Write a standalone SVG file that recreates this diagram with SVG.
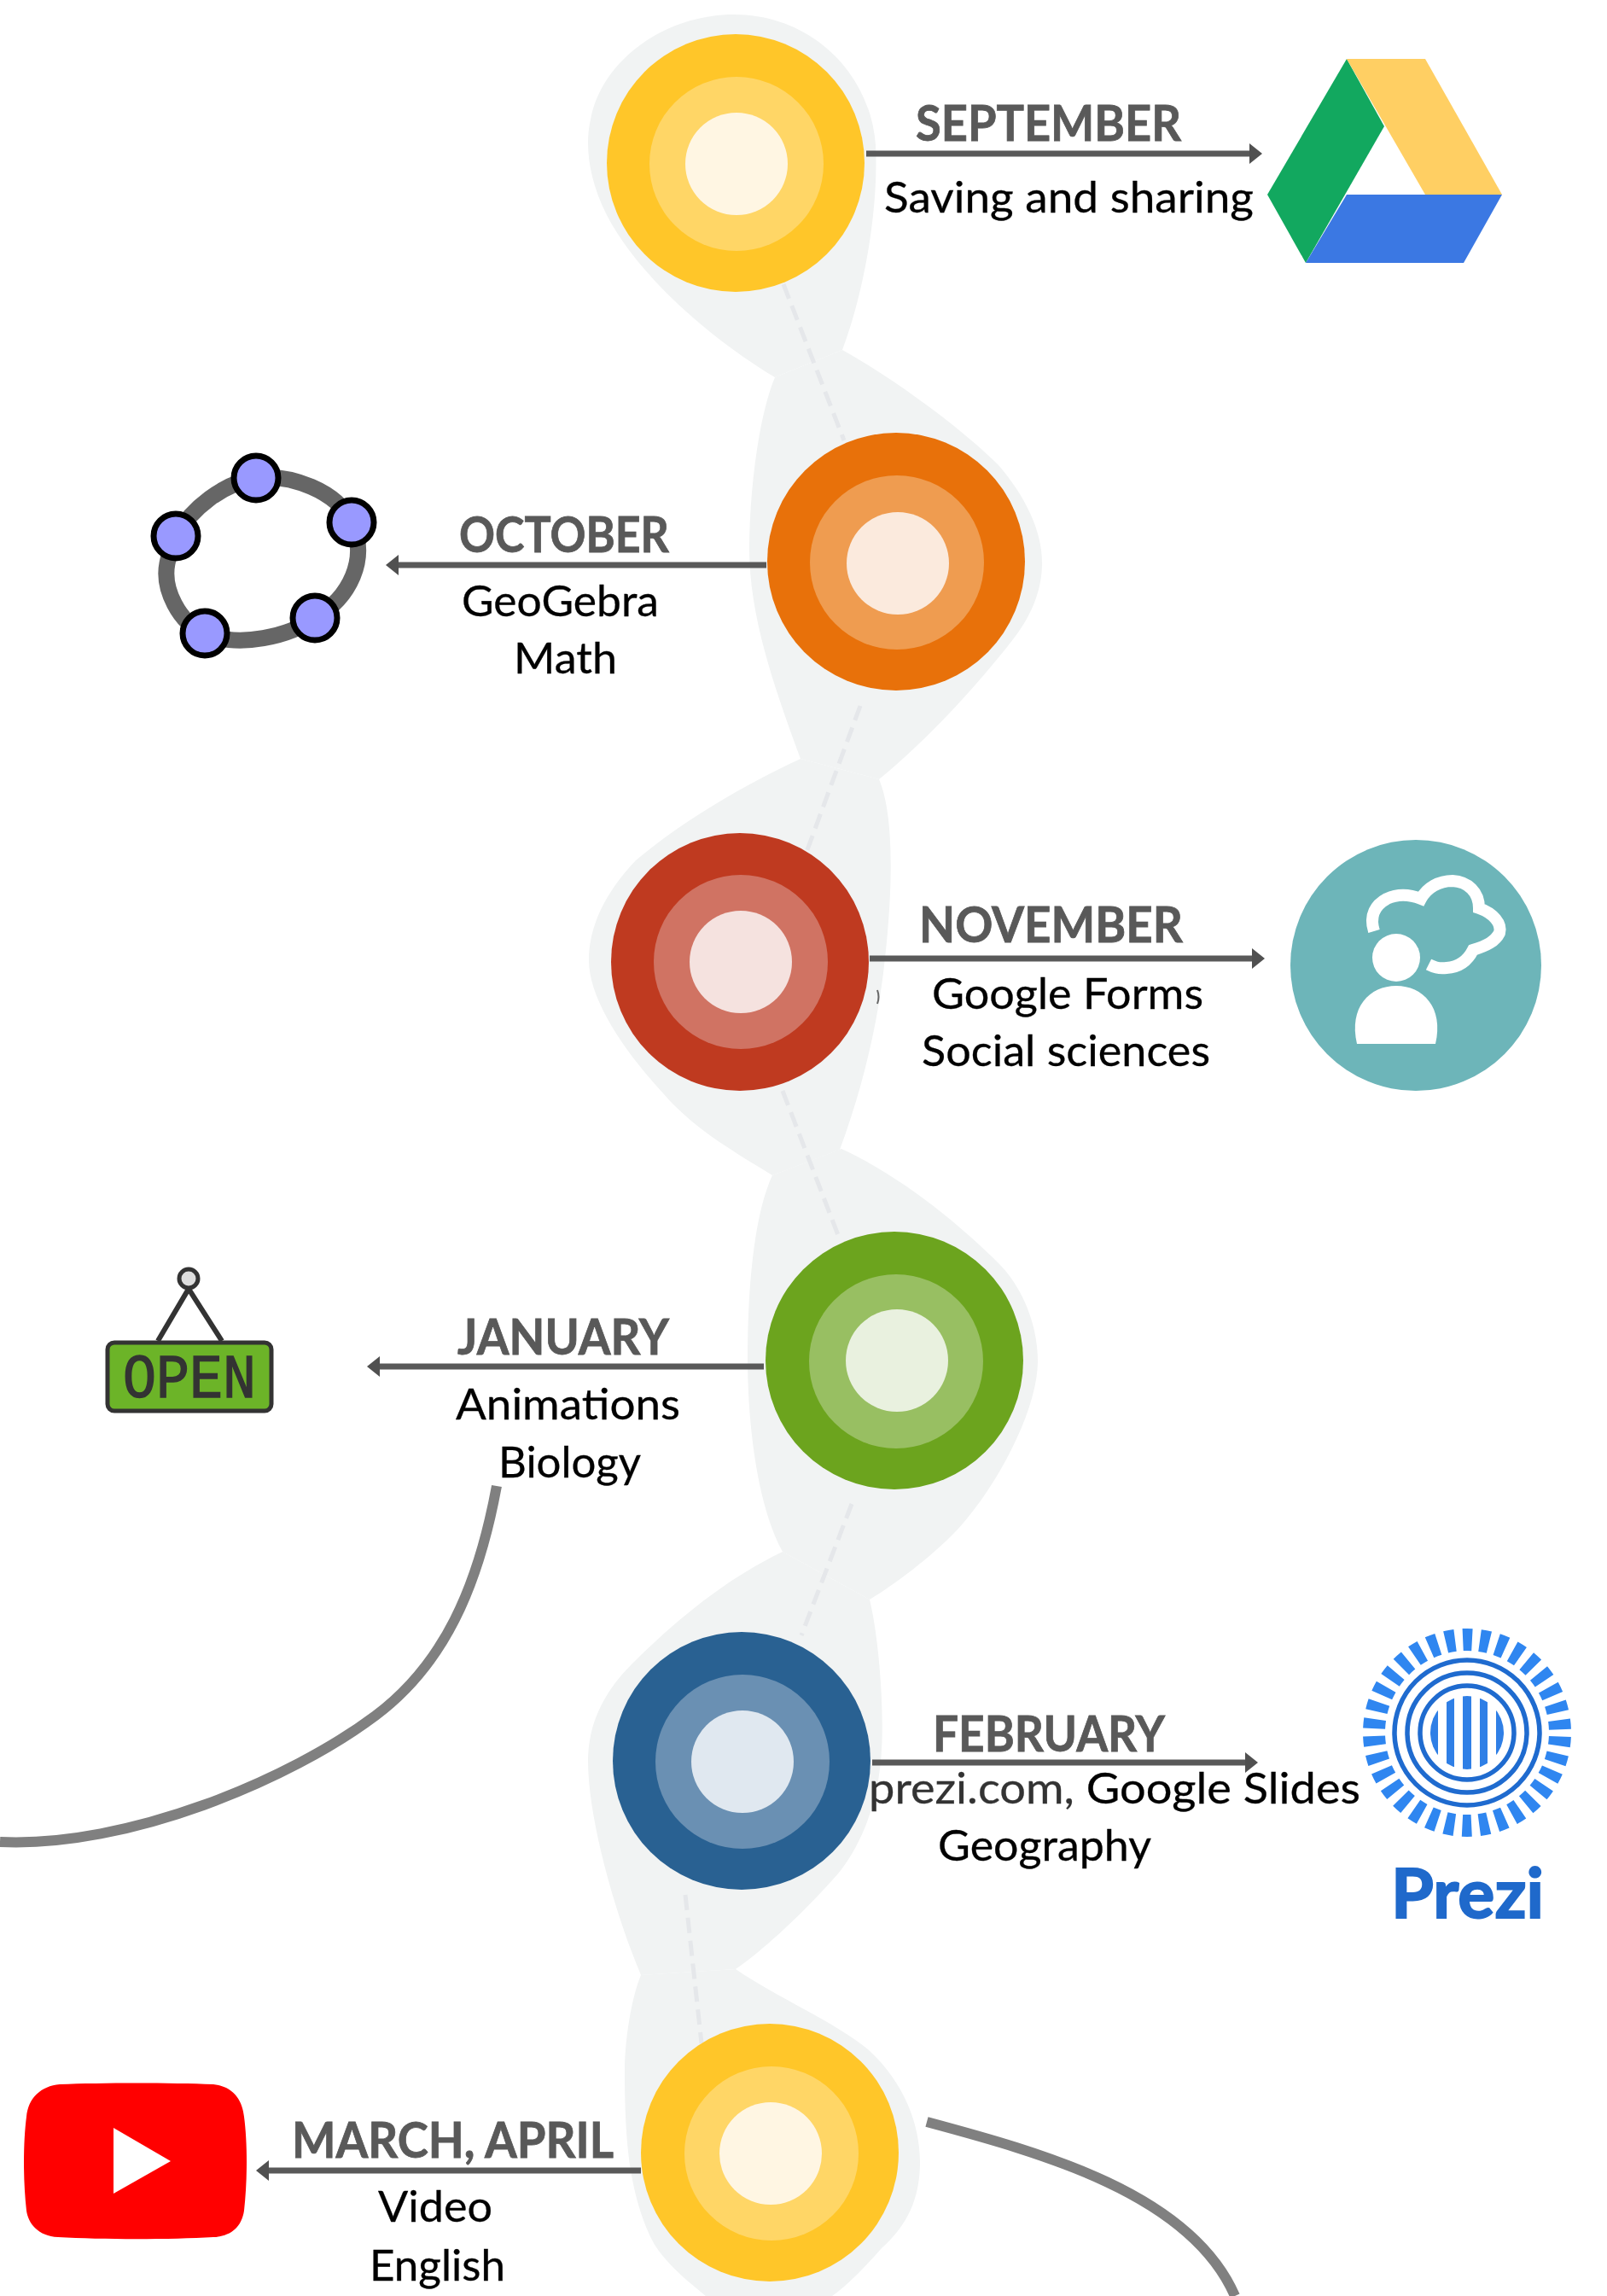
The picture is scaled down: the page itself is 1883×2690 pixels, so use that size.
<svg xmlns="http://www.w3.org/2000/svg" width="1883" height="2690" viewBox="0 0 1883 2690">
<style>
.blob{fill:#f1f3f3}
.dash{fill:none;stroke:#e5e7ea;stroke-width:5;stroke-dasharray:18 9}
.arrow{fill:none;stroke:#595959;stroke-width:7;marker-end:url(#head)}
.curve{fill:none;stroke:#808080;stroke-width:12}
.h{font-family:Lato,"Liberation Sans",sans-serif;font-weight:700;font-size:57px;fill:#595959;stroke:#595959;stroke-width:.8}
.b{font-family:Lato,"Liberation Sans",sans-serif;font-size:51px;fill:#000;stroke:#000;stroke-width:.3}
.y1{fill:#ffc629}.y2{fill:#ffd666}.y3{fill:#fff6e3}
.o1{fill:#e8710a}.o2{fill:#ef9c50}.o3{fill:#fbeadd}
.r1{fill:#bf3a20}.r2{fill:#d07363}.r3{fill:#f5e2df}
.g1{fill:#6ca41e}.g2{fill:#98bf62}.g3{fill:#e9f1df}
.n1{fill:#296192}.n2{fill:#6a90b3}.n3{fill:#e0e8f0}
.pt{fill:#9999ff;stroke:#000;stroke-width:7}
</style>
<defs>
<marker id="head" markerUnits="userSpaceOnUse" markerWidth="16" markerHeight="26" refX="1" refY="13" orient="auto"><path d="M0 1L15 13L0 25Z" fill="#505050"/></marker>
<clipPath id="prezi-clip"><circle cx="1719" cy="2030" r="43"/></clipPath>
</defs>
<rect width="1883" height="2690" fill="#fff"/>
<g id="ribbon">
<path class="blob" d="M908 442C830 395 745 320 710 250C690 210 685 170 692 140C705 70 780 17 860 17C950 17 1020 85 1026 170C1030 250 1010 350 987 410Z"/>
<path class="blob" d="M987 410C1050 445 1130 505 1170 545C1200 580 1221 620 1221 660C1221 695 1205 725 1190 745C1160 785 1095 860 1030 913L938 889C905 800 878 720 878 643C878 580 888 490 908 442Z"/>
<path class="blob" d="M938 889C860 925 790 970 745 1008C705 1050 690 1090 690 1125C690 1170 730 1230 778 1282C815 1325 870 1355 905 1377L984 1347C1005 1290 1025 1220 1035 1140C1045 1060 1050 960 1030 913Z"/>
<path class="blob" d="M986 1346C1060 1380 1130 1440 1170 1480C1200 1510 1216 1555 1216 1595C1216 1650 1170 1740 1121 1793C1090 1825 1050 1855 1019 1874L917 1818C890 1770 876 1680 876 1590C876 1500 885 1420 905 1377Z"/>
<path class="blob" d="M917 1818C850 1850 790 1900 740 1950C700 1990 689 2030 689 2063C689 2130 720 2240 751 2314L862 2307C900 2281 950 2232 983 2194C1010 2160 1030 2110 1033 2050C1036 2000 1030 1920 1019 1874Z"/>
<path class="blob" d="M862 2307C910 2340 980 2370 1017 2401C1060 2440 1078 2490 1078 2533C1078 2580 1060 2610 1033 2634C1010 2660 990 2680 975 2690L827 2690C790 2660 770 2640 760 2616C740 2570 732 2520 732 2427C732 2390 740 2340 751 2314Z"/>
</g>
<g id="connectors">
<path class="dash" d="M918 333L989 516"/>
<path class="dash" d="M1008 827L940 1012"/>
<path class="dash" d="M917 1278L982 1447"/>
<path class="dash" d="M998 1762L939 1916"/>
<path class="dash" d="M803 2220L822 2394"/>
<path class="arrow" d="M1015 180H1465"/>
<path class="arrow" d="M898 662H466"/>
<path class="arrow" d="M1019 1123H1468"/>
<path class="arrow" d="M895 1601H444"/>
<path class="arrow" d="M1022 2065H1460"/>
<path class="arrow" d="M751 2543H314"/>
<path class="curve" d="M582 1741C560 1860 520 1950 440 2010C340 2085 150 2165 0 2158"/>
<path class="curve" d="M1086 2486C1220 2522 1395 2570 1447 2690"/>
<path d="M1028 1160Q1031 1168 1028 1176" fill="none" stroke="#666" stroke-width="2"/>
</g>
<g id="september">
<circle class="y1" cx="862" cy="191" r="151"/><circle class="y2" cx="863" cy="192" r="102"/><circle class="y3" cx="863" cy="192" r="60"/>
<text class="h" x="1073" y="165" textLength="311" lengthAdjust="spacingAndGlyphs">SEPTEMBER</text>
<text class="b" x="1036" y="249" textLength="433" lengthAdjust="spacingAndGlyphs">Saving and sharing</text>
</g>
<g id="drive-icon">
<polygon points="1578,69 1622,148 1530,308 1485,228" fill="#12a85f"/>
<polygon points="1578,69 1670,69 1760,228 1670,228" fill="#ffcf63"/>
<polygon points="1578,228 1760,228 1715,308 1530,308" fill="#3b78e3"/>
</g>
<g id="october">
<circle class="o1" cx="1050" cy="658" r="151"/><circle class="o2" cx="1051" cy="659" r="102"/><circle class="o3" cx="1052" cy="660" r="60"/>
<text class="h" x="538" y="647" textLength="246" lengthAdjust="spacingAndGlyphs">OCTOBER</text>
<text class="b" x="541" y="722" textLength="231" lengthAdjust="spacingAndGlyphs">GeoGebra</text>
<text class="b" x="602" y="789" textLength="121" lengthAdjust="spacingAndGlyphs">Math</text>
</g>
<g id="geogebra-icon">
<path d="M300 560C340 555 395 575 412 612C432 655 410 700 369 724C340 745 280 760 240 742C210 730 190 690 196 660C198 650 200 640 206 628C225 595 262 566 300 560Z" fill="none" stroke="#666" stroke-width="19"/>
<circle class="pt" cx="300" cy="560" r="26"/><circle class="pt" cx="412" cy="612" r="26"/><circle class="pt" cx="369" cy="724" r="26"/><circle class="pt" cx="240" cy="742" r="26"/><circle class="pt" cx="206" cy="628" r="26"/>
</g>
<g id="november">
<circle class="r1" cx="867" cy="1127" r="151"/><circle class="r2" cx="868" cy="1127" r="102"/><circle class="r3" cx="868" cy="1127" r="60"/>
<text class="h" x="1077" y="1104" textLength="309" lengthAdjust="spacingAndGlyphs">NOVEMBER</text>
<text class="b" x="1092" y="1182" textLength="318" lengthAdjust="spacingAndGlyphs">Google Forms</text>
<text class="b" x="1080" y="1249" textLength="338" lengthAdjust="spacingAndGlyphs">Social sciences</text>
</g>
<g id="forms-icon">
<circle cx="1659" cy="1131" r="147" fill="#6db5b9"/>
<circle cx="1636" cy="1122" r="28" fill="#fff"/>
<path d="M1590 1223C1580 1180 1605 1155 1636 1155C1667 1155 1692 1180 1682 1223Z" fill="#fff"/>
<path d="M1610 1091C1604 1072 1612 1060 1625 1053C1638 1047 1652 1048 1665 1053C1672 1040 1686 1032 1702 1032C1720 1033 1733 1045 1733 1064C1750 1070 1760 1082 1757 1093C1752 1103 1742 1108 1726 1113C1720 1125 1710 1133 1695 1134C1685 1135 1680 1133 1674 1130" fill="none" stroke="#fff" stroke-width="14"/>
</g>
<g id="january">
<circle class="g1" cx="1048" cy="1594" r="151"/><circle class="g2" cx="1050" cy="1595" r="102"/><circle class="g3" cx="1051" cy="1594" r="60"/>
<text class="h" x="536" y="1587" textLength="248" lengthAdjust="spacingAndGlyphs">JANUARY</text>
<text class="b" x="534" y="1663" textLength="263" lengthAdjust="spacingAndGlyphs">Animations</text>
<text class="b" x="584" y="1731" textLength="167" lengthAdjust="spacingAndGlyphs">Biology</text>
</g>
<g id="open-icon">
<path d="M185 1571L221 1510L260 1571" fill="none" stroke="#333" stroke-width="6"/>
<circle cx="221" cy="1498" r="11" fill="#ddd" stroke="#333" stroke-width="5"/>
<rect x="126" y="1573" width="192" height="80" rx="8" fill="#6cb428" stroke="#333" stroke-width="5"/>
<text x="144" y="1637" font-family="'Liberation Mono',monospace" font-size="72" fill="#333" stroke="#333" stroke-width="1.5" textLength="156" lengthAdjust="spacingAndGlyphs">OPEN</text>
</g>
<g id="february">
<circle class="n1" cx="869" cy="2063" r="151"/><circle class="n2" cx="870" cy="2064" r="102"/><circle class="n3" cx="870" cy="2064" r="60"/>
<text class="h" x="1093" y="2052" textLength="272" lengthAdjust="spacingAndGlyphs">FEBRUARY</text>
<text class="b" x="1018" y="2113" textLength="576" lengthAdjust="spacingAndGlyphs"><tspan fill="#333" stroke="#333">prezi.com,</tspan> Google Slides</text>
<text class="b" x="1099" y="2180" textLength="250" lengthAdjust="spacingAndGlyphs">Geography</text>
</g>
<g id="prezi-icon">
<circle cx="1719" cy="2030" r="109" fill="none" stroke="#2f86f0" stroke-width="26" stroke-dasharray="11 9.144" stroke-dashoffset="-4.57"/>
<g fill="none" stroke="#1f6bcf" stroke-width="5.5">
<circle cx="1719" cy="2030" r="85"/><circle cx="1719" cy="2030" r="70"/><circle cx="1719" cy="2030" r="55"/>
</g>
<g clip-path="url(#prezi-clip)" fill="#2f7fe6">
<rect x="1676" y="1985" width="9" height="90"/><rect x="1695" y="1985" width="9" height="90"/><rect x="1714" y="1985" width="10" height="90"/><rect x="1734" y="1985" width="9" height="90"/><rect x="1753" y="1985" width="9" height="90"/>
</g>
<text x="1630" y="2247" font-family="Lato,'Liberation Sans',sans-serif" font-weight="700" font-size="80" fill="#1f69cb" stroke="#1f69cb" stroke-width="2" textLength="179" lengthAdjust="spacingAndGlyphs">Prezi</text>
</g>
<g id="march-april">
<circle class="y1" cx="902" cy="2522" r="151"/><circle class="y2" cx="904" cy="2523" r="102"/><circle class="y3" cx="903" cy="2523" r="60"/>
<text class="h" x="342" y="2528" textLength="377" lengthAdjust="spacingAndGlyphs">MARCH, APRIL</text>
<text class="b" x="443" y="2603" textLength="134" lengthAdjust="spacingAndGlyphs">Video</text>
<text class="b" x="433" y="2672" textLength="159" lengthAdjust="spacingAndGlyphs">English</text>
</g>
<g id="youtube-icon">
<path d="M70 2442C120 2440 200 2440 250 2442C275 2445 284 2462 286 2480C290 2510 290 2555 286 2590C283 2610 270 2620 250 2621C200 2624 120 2624 68 2621C45 2620 33 2605 31 2590C27 2555 27 2510 31 2480C33 2458 48 2444 70 2442Z" fill="#f00"/>
<polygon points="133,2493 200,2532 133,2570" fill="#fff"/>
</g>
</svg>
